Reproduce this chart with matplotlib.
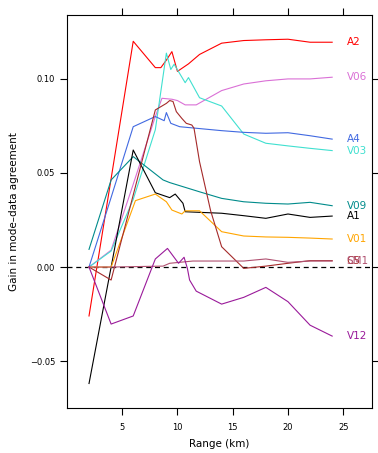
import matplotlib
matplotlib.use("Agg")
import matplotlib.pyplot as plt

# series: (x, y)
a2_x = [2, 4, 6, 8, 8.5, 9, 9.5, 10, 11, 12, 14, 16, 18, 20, 22, 24]
a2_y = [-0.026, 0.047, 0.120, 0.106, 0.106, 0.110, 0.1145, 0.104, 0.108, 0.113, 0.119, 0.1204, 0.1208, 0.1211, 0.1195, 0.1195]

v06_x = [2, 4, 6, 8, 8.6, 9.5, 10, 10.7, 11.7, 14, 16, 18, 20, 22, 24]
v06_y = [0.0, 0.009, 0.044, 0.080, 0.0897, 0.0892, 0.0885, 0.0862, 0.0862, 0.0938, 0.0973, 0.099, 0.100, 0.100, 0.1009]

v03_x = [2, 4, 6, 8, 9, 9.4, 9.7, 10.7, 11, 12, 14, 16, 18, 20, 22, 24]
v03_y = [0.0, 0.0085, 0.036, 0.073, 0.1137, 0.105, 0.1078, 0.098, 0.1007, 0.090, 0.0856, 0.0707, 0.0658, 0.0644, 0.0631, 0.0619]

a4_x = [2, 4, 6, 8, 8.8, 9, 9.4, 10.2, 14, 16, 18, 20, 22, 24]
a4_y = [0.0, 0.037, 0.0746, 0.080, 0.0778, 0.0821, 0.0764, 0.0746, 0.0725, 0.0716, 0.0711, 0.0714, 0.0698, 0.068]

v09_x = [2, 4, 6, 8.7, 9.3, 12, 14, 16, 18, 20, 22, 24]
v09_y = [0.0094, 0.0463, 0.0587, 0.0463, 0.0449, 0.040, 0.0365, 0.0347, 0.0339, 0.0335, 0.0344, 0.0326]

a1_x = [2, 4, 6, 8, 9.3, 9.8, 10.5, 10.7, 14, 16, 18, 20, 22, 24]
a1_y = [-0.0619, 0.0, 0.0622, 0.0395, 0.0369, 0.0388, 0.0339, 0.0294, 0.0286, 0.0273, 0.0259, 0.0282, 0.0264, 0.0271]

v01_x = [2, 4, 6.2, 8, 9, 9.5, 10.4, 10.7, 12, 14, 16, 18, 20, 22, 24]
v01_y = [0.0, 0.0, 0.0353, 0.0388, 0.0347, 0.0303, 0.0282, 0.0299, 0.0299, 0.0188, 0.0165, 0.016, 0.0158, 0.0154, 0.0149]

c5_x = [2, 4, 8, 9, 9.3, 9.6, 9.9, 10.4, 10.8, 11.3, 11.5, 12, 13, 14, 16, 18, 20, 22, 24]
c5_y = [0.0, -0.0069, 0.0835, 0.087, 0.0885, 0.088, 0.0826, 0.079, 0.0764, 0.0755, 0.0738, 0.056, 0.030, 0.0108, -0.0007, 0.0005, 0.002, 0.0034, 0.0034]

sm1_x = [2, 4, 8.7, 9.3, 11.4, 14, 16, 18, 20, 22, 24]
sm1_y = [0.0, 0.0, 0.0005, 0.002, 0.0032, 0.0032, 0.0032, 0.0043, 0.0025, 0.0032, 0.0032]

v12_x = [2, 4, 6, 8, 9.1, 10.1, 10.6, 10.9, 11.1, 11.7, 14, 16, 18, 20, 22, 24]
v12_y = [0.0, -0.0303, -0.026, 0.0043, 0.0099, 0.002, 0.0052, -0.0007, -0.0069, -0.0128, -0.0197, -0.0161, -0.0108, -0.0184, -0.0309, -0.0367]

names = ["A2", "V06", "V03", "A4", "V09", "A1", "V01", "C5", "SM1", "V12"]
xs = [a2_x, v06_x, v03_x, a4_x, v09_x, a1_x, v01_x, c5_x, sm1_x, v12_x]
ys = [a2_y, v06_y, v03_y, a4_y, v09_y, a1_y, v01_y, c5_y, sm1_y, v12_y]
colors = ["#FF0000", "#DA70D6", "#40E0D0", "#4169E1", "#008B8B", "#000000",
          "#FFA500", "#A52A2A", "#B05070", "#9A1A9A"]

fig = plt.figure(figsize=(3.78, 4.53), dpi=100)
ax = fig.add_axes([0.177, 0.099, 0.807, 0.868])

ax.axhline(0, color="black", linestyle=(0, (4, 3)), linewidth=0.9, zorder=1)

for name, x, y, c in zip(names, xs, ys, colors):
    ax.plot(x, y, color=c, linewidth=0.8)
    ax.text(25.3, y[-1], name, color=c, fontsize=7.5, va="center", ha="left")

ax.set_xlim(0, 27.6)
ax.set_ylim(-0.075, 0.134)
ax.set_xticks([5, 10, 15, 20, 25])
ax.set_yticks([-0.05, 0.0, 0.05, 0.10])
ax.set_yticklabels(["\u22120.05", "0.00", "0.05", "0.10"])
ax.tick_params(direction="out", length=5, width=0.8, labelsize=6, colors="black",
               top=True, right=True, labeltop=False, labelright=False)
ax.tick_params(axis="x", pad=6)
for s in ax.spines.values():
    s.set_linewidth(0.8)

ax.set_xlabel("Range (km)", fontsize=7.5, labelpad=5)
ax.set_ylabel("Gain in mode\u2013data agreement", fontsize=7.5, labelpad=8)

fig.savefig("out.png", dpi=100)
